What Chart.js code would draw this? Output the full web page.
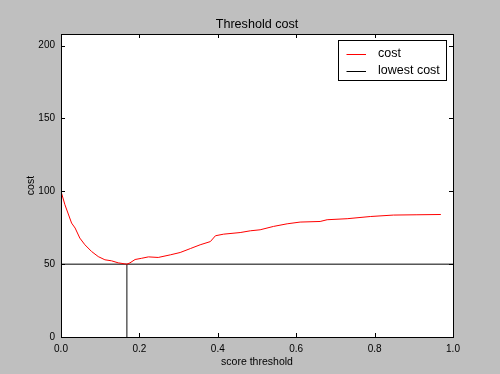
<!DOCTYPE html>
<html>
<head>
<meta charset="utf-8">
<script src="https://cdn.jsdelivr.net/npm/chart.js@4"></script>
<style>
  html, body { margin: 0; padding: 0; background: #bfbfbf; }
  #wrap { width: 500px; height: 374px; }
</style>
</head>
<body>
<div id="wrap"><canvas id="myCostChart" width="500" height="374"></canvas></div>
<script>
"use strict";

// data
var thresholds = [0, 0.010, 0.027, 0.036, 0.048, 0.061, 0.078, 0.095, 0.112, 0.129, 0.146, 0.163, 0.168,
    0.176, 0.189, 0.205, 0.223, 0.248, 0.279, 0.304, 0.330, 0.355, 0.381, 0.394, 0.415, 0.457, 0.483,
    0.508, 0.542, 0.577, 0.610, 0.661, 0.679, 0.730, 0.789, 0.848, 0.908, 0.969];
var costs = [100, 90.8, 78.2, 74.8, 67.9, 63.3, 58.7, 55.2, 53.0, 52.3, 50.9, 50.2, 50.0,
    50.9, 53.2, 54.0, 55.0, 54.6, 56.4, 58.0, 60.7, 63.3, 65.5, 69.5, 70.6, 71.7, 72.9,
    73.6, 75.9, 77.7, 78.9, 79.3, 80.5, 81.2, 82.7, 83.7, 83.9, 84.1];
var lowestThreshold = 0.168;
var lowestCost = 50;
var xTicks = [0, 0.2, 0.4, 0.6, 0.8, 1.0];
var yTicks = [0, 50, 100, 150, 200];
var legendLabels = ['cost', 'lowest cost'];
var legendColors = ['#ff0000', '#000000'];

var FONT = '"Liberation Sans", Arial, sans-serif';

function toPoints(xs, ys) {
    return xs.map(function (x, i) { return { x: x, y: ys[i] }; });
}

// white plot area, frame, inward ticks, titles and legend (matplotlib look)
var mplLook = {
    id: 'mplLook',
    beforeDraw: function (chart) {
        var c = chart.ctx, a = chart.chartArea;
        c.save();
        c.fillStyle = '#bfbfbf';
        c.fillRect(0, 0, chart.width, chart.height);
        c.fillStyle = '#ffffff';
        c.fillRect(a.left, a.top, a.right - a.left, a.bottom - a.top);
        c.restore();
    },
    afterDraw: function (chart) {
        var c = chart.ctx, a = chart.chartArea;
        var xs = chart.scales.x, ys = chart.scales.y;
        c.save();
        c.strokeStyle = '#000000';
        c.lineWidth = 1;
        c.beginPath();
        xTicks.forEach(function (v) {
            var p = Math.round(xs.getPixelForValue(v)) + 0.5;
            c.moveTo(p, a.bottom); c.lineTo(p, a.bottom - 4);
            c.moveTo(p, a.top); c.lineTo(p, a.top + 4);
        });
        yTicks.forEach(function (v) {
            var p = Math.round(ys.getPixelForValue(v)) + 0.5;
            c.moveTo(a.left, p); c.lineTo(a.left + 4, p);
            c.moveTo(a.right, p); c.lineTo(a.right - 4, p);
        });
        c.stroke();
        c.strokeRect(Math.round(a.left) + 0.5, Math.round(a.top) + 0.5,
            Math.round(a.right - a.left), Math.round(a.bottom - a.top));

        var cx = (a.left + a.right) / 2;
        c.fillStyle = '#000000';
        c.textAlign = 'center';
        c.textBaseline = 'middle';
        c.font = '12.6px ' + FONT;
        c.fillText('Threshold cost', cx, 25);
        c.font = '10.5px ' + FONT;
        c.fillText('score threshold', cx, 362);
        c.save();
        c.translate(31, (a.top + a.bottom) / 2);
        c.rotate(-Math.PI / 2);
        c.fillText('cost', 0, 0);
        c.restore();

        // legend box
        c.fillStyle = '#ffffff';
        c.fillRect(338.5, 40.5, 108, 40);
        c.strokeStyle = '#000000';
        c.strokeRect(338.5, 40.5, 108, 40);
        c.font = '12.5px ' + FONT;
        c.textAlign = 'left';
        legendLabels.forEach(function (lbl, i) {
            var y = 54 + i * 17;
            c.strokeStyle = legendColors[i];
            c.beginPath();
            c.moveTo(346.5, y + 0.5); c.lineTo(366, y + 0.5);
            c.stroke();
            c.fillStyle = '#000000';
            c.fillText(lbl, 378, y);
        });
        c.restore();
    }
};

var ctx = document.getElementById('myCostChart').getContext('2d');
var costChart = new Chart(ctx, {
    type: 'line',
    data: {
        datasets: [{
            label: legendLabels[0],
            data: toPoints(thresholds, costs),
            borderColor: legendColors[0],
            borderWidth: 1,
            pointRadius: 0,
            tension: 0
        }, {
            label: legendLabels[1],
            data: [{ x: 0, y: lowestCost }, { x: 1, y: lowestCost }],
            borderColor: legendColors[1],
            borderWidth: 1,
            pointRadius: 0
        }, {
            label: 'lowest threshold',
            data: [{ x: lowestThreshold, y: 0 }, { x: lowestThreshold, y: lowestCost }],
            borderColor: '#444444',
            borderWidth: 1.3,
            pointRadius: 0
        }]
    },
    options: {
        responsive: false,
        animation: false,
        layout: { padding: { left: 0, right: 47, top: 34, bottom: 0 } },
        plugins: {
            legend: { display: false },
            title: { display: false },
            tooltip: { enabled: false }
        },
        scales: {
            x: {
                type: 'linear',
                min: 0,
                max: 1,
                grid: { display: false, drawTicks: false },
                border: { display: false },
                afterBuildTicks: function (scale) {
                    scale.ticks = xTicks.map(function (v) { return { value: v }; });
                },
                afterFit: function (scale) { scale.height = 37; },
                ticks: {
                    padding: 6,
                    color: '#000000',
                    maxRotation: 0,
                    font: { family: FONT, size: 10 },
                    callback: function (v) { return Number(v).toFixed(1); }
                }
            },
            y: {
                min: 0,
                max: 208,
                grid: { display: false, drawTicks: false },
                border: { display: false },
                afterBuildTicks: function (scale) {
                    scale.ticks = yTicks.map(function (v) { return { value: v }; });
                },
                afterFit: function (scale) { scale.width = 61; },
                ticks: {
                    padding: 6,
                    color: '#000000',
                    font: { family: FONT, size: 10 }
                }
            }
        }
    },
    plugins: [mplLook]
});
</script>
</body>
</html>
